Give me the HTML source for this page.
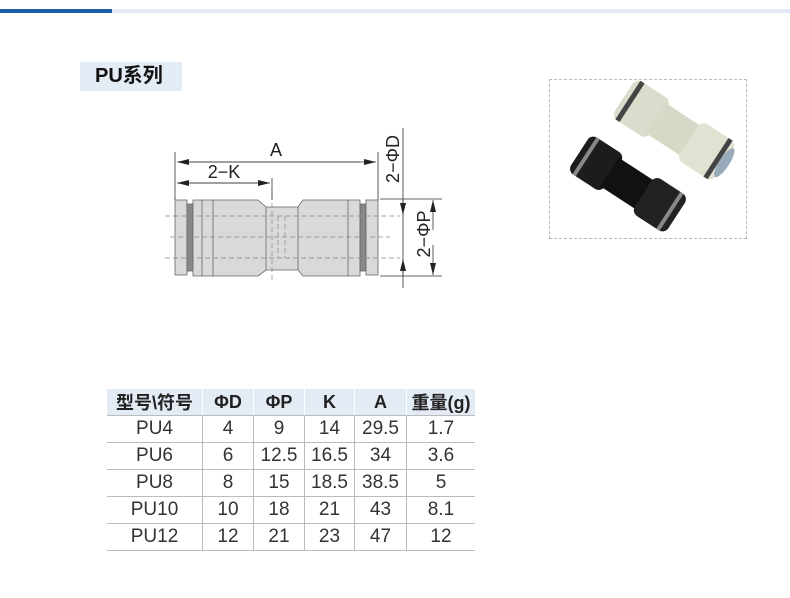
<!DOCTYPE html>
<html><head><meta charset="utf-8"><style>
body{margin:0;width:790px;height:598px;background:#fff;overflow:hidden;position:relative;font-family:"Liberation Sans","Noto Sans CJK SC",sans-serif}
.bar1{position:absolute;left:0;top:9px;width:112px;height:4px;background:#1d5fa8}
.bar2{position:absolute;left:112px;top:9px;width:678px;height:4px;background:#e2ebf5}
.title{position:absolute;left:80px;top:62px;width:102px;height:29px;background:#e3ebf5;font-weight:bold;font-size:20px;line-height:29px;color:#111;padding-left:15px;box-sizing:border-box}
.photo{position:absolute;left:549px;top:79px;width:196px;height:158px;border:1px dashed #bbb;overflow:hidden}
table{position:absolute;left:107px;top:389px;border-collapse:collapse;font-size:19px;color:#333}
td{text-align:center;height:26px;padding:0;border-bottom:1px solid #bbb;border-left:1px solid #bbb}
td:first-child{border-left:none}
tr.h td{background:#e3ebf5;font-weight:bold;color:#222;border-left:1px solid #fff;height:25px;font-size:18px}
tr.h td:first-child{border-left:none}
</style></head><body>
<div class="bar1"></div><div class="bar2"></div>
<div class="title">PU系列</div>
<svg style="position:absolute;left:0;top:0" width="790" height="598">
<defs><marker id="a" markerWidth="12" markerHeight="6" refX="12" refY="3" orient="auto" markerUnits="userSpaceOnUse"><path d="M0,0L12,3L0,6z" fill="#222"/></marker></defs>
<g stroke="#666" stroke-width="0.8" fill="#d9d9d9">
<rect x="175" y="200" width="12" height="75"/>
<rect x="187" y="204" width="6" height="67" fill="#888"/>
<path d="M193,200 L258,200 L266,207 L298,207 L303,200 L360,200 L360,276 L303,276 L298,270 L266,270 L258,276 L193,276z"/>
<line x1="202" y1="200" x2="202" y2="276"/><line x1="213" y1="200" x2="213" y2="276"/>
<line x1="348" y1="200" x2="348" y2="276"/><line x1="266" y1="207" x2="266" y2="270"/><line x1="298" y1="207" x2="298" y2="270"/>
<rect x="360" y="204" width="6" height="67" fill="#888"/>
<rect x="366" y="200" width="12" height="75"/>
</g>
<g stroke="#888" stroke-width="0.7" stroke-dasharray="5,3" fill="none">
<line x1="165" y1="216" x2="400" y2="216"/><line x1="165" y1="258" x2="400" y2="258"/>
<line x1="170" y1="237" x2="390" y2="237"/><line x1="272" y1="195" x2="272" y2="282"/>
<path d="M278,216 V258 M285,216 V258"/>
</g>
<g stroke="#333" stroke-width="0.8" fill="none">
<line x1="175" y1="152" x2="175" y2="200"/><line x1="378" y1="152" x2="378" y2="200"/>
<line x1="272" y1="178" x2="272" y2="200"/>
<line x1="190" y1="162" x2="376" y2="162" marker-end="url(#a)"/><line x1="360" y1="162" x2="177" y2="162" marker-end="url(#a)"/>
<line x1="190" y1="183" x2="270" y2="183" marker-end="url(#a)"/><line x1="260" y1="183" x2="177" y2="183" marker-end="url(#a)"/>
<line x1="403" y1="128" x2="403" y2="288"/>
<line x1="380" y1="199" x2="442" y2="199"/><line x1="380" y1="276" x2="442" y2="276"/>
<line x1="403" y1="200" x2="403" y2="215" marker-end="url(#a)"/><line x1="403" y1="275" x2="403" y2="259" marker-end="url(#a)"/>
<line x1="433" y1="230" x2="433" y2="200" marker-end="url(#a)"/><line x1="433" y1="245" x2="433" y2="275" marker-end="url(#a)"/>
</g>
<g font-family="Liberation Sans,sans-serif" font-size="18" fill="#222">
<text x="276" y="156" text-anchor="middle">A</text>
<text x="224" y="178" text-anchor="middle">2−K</text>
<text transform="translate(399,159) rotate(-90)" text-anchor="middle">2−ΦD</text>
<text transform="translate(430,234) rotate(-90)" text-anchor="middle">2−ΦP</text>
</g>
</svg>
<div class="photo"><svg width="196" height="158">
<g transform="translate(124,50) rotate(33)">
<rect x="-60" y="-23" width="42" height="46" rx="7" fill="#dcdccc"/>
<rect x="-22" y="-18" width="44" height="36" fill="#d8d8c6"/>
<rect x="18" y="-23" width="42" height="46" rx="7" fill="#e2e2d2"/>
<rect x="-55" y="-23" width="5" height="46" fill="#444"/>
<rect x="50" y="-23" width="5" height="46" fill="#444"/>
<ellipse cx="60" cy="0" rx="5" ry="17" fill="#9ab"/>
</g>
<g transform="translate(78,104) rotate(33)">
<rect x="-58" y="-22" width="40" height="44" rx="7" fill="#1c1c1c"/>
<rect x="-22" y="-17" width="44" height="34" fill="#111"/>
<rect x="18" y="-22" width="40" height="44" rx="7" fill="#222"/>
<rect x="-52" y="-22" width="4" height="44" fill="#888"/>
<rect x="48" y="-22" width="4" height="44" fill="#888"/>
</g>
</svg></div>
<table>
<tr class="h"><td style="width:95px">型号\符号</td><td style="width:50px">ΦD</td><td style="width:50px">ΦP</td><td style="width:49px">K</td><td style="width:51px">A</td><td style="width:68px">重量(g)</td></tr>
<tr><td>PU4</td><td>4</td><td>9</td><td>14</td><td>29.5</td><td>1.7</td></tr>
<tr><td>PU6</td><td>6</td><td>12.5</td><td>16.5</td><td>34</td><td>3.6</td></tr>
<tr><td>PU8</td><td>8</td><td>15</td><td>18.5</td><td>38.5</td><td>5</td></tr>
<tr><td>PU10</td><td>10</td><td>18</td><td>21</td><td>43</td><td>8.1</td></tr>
<tr><td>PU12</td><td>12</td><td>21</td><td>23</td><td>47</td><td>12</td></tr>
</table>
</body></html>
